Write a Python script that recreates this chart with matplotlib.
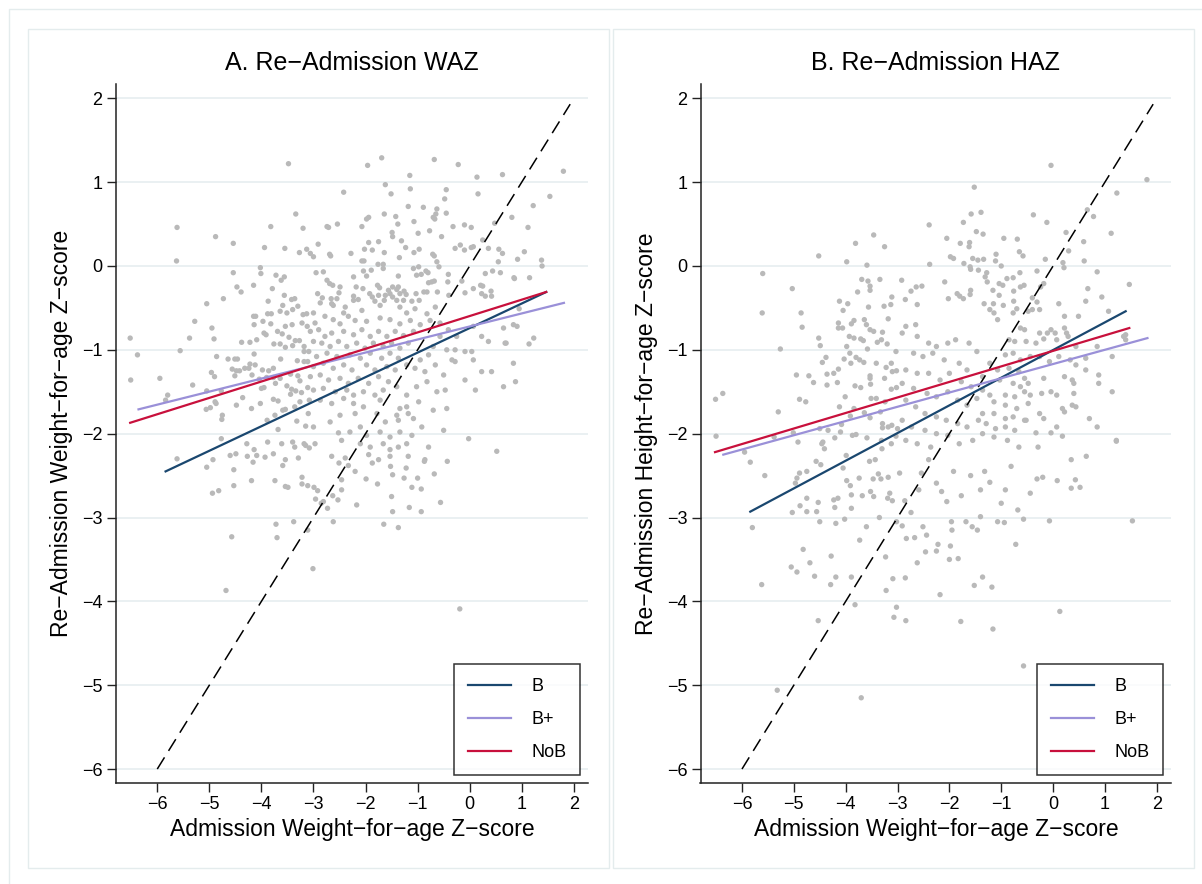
import numpy as np
import matplotlib
matplotlib.use("Agg")
import matplotlib.pyplot as plt
from matplotlib.lines import Line2D
from matplotlib.patches import Rectangle

plt.rcParams['font.family'] = ['Liberation Sans', 'DejaVu Sans']

# ---- data ----
titles = ["A. Re\u2212Admission WAZ", "B. Re\u2212Admission HAZ"]
ylabels = ["Re\u2212Admission Weight\u2212for\u2212age Z\u2212score",
           "Re\u2212Admission Height\u2212for\u2212age Z\u2212score"]
xlabel = "Admission Weight\u2212for\u2212age Z\u2212score"
ticks = [-6, -5, -4, -3, -2, -1, 0, 1, 2]

groups = ["B", "B+", "NoB"]
group_colors = ["#1a476f", "#9a90d8", "#c8103c"]

# fitted lines: (x start, x end), (y start, y end) per group
waz_fit_x = [(-5.84, 1.47), (-6.36, 1.81), (-6.52, 1.47)]
waz_fit_y = [(-2.45, -0.31), (-1.71, -0.44), (-1.87, -0.31)]
haz_fit_x = [(-5.84, 1.40), (-6.36, 1.82), (-6.52, 1.47)]
haz_fit_y = [(-2.93, -0.54), (-2.25, -0.86), (-2.22, -0.74)]

# line of equality
eq_x = [-6.0, 1.93]

# scatter points (admission z, re-admission z)
waz_points = [
    (-3.48, 1.22), (-3.34, 0.62), (-5.62, 0.46), (-3.82, 0.47), (-4.88, 0.35), (-4.54, 0.27),
    (-3.94, 0.22), (-3.55, 0.21), (-3.27, 0.16), (-5.63, 0.06), (-4.02, -0.02), (-4.54, -0.08),
    (-4.01, -0.09), (-3.72, -0.11), (-3.56, -0.13), (-3.62, -0.17), (-4.47, -0.25), (-4.15, -0.23),
    (-4.39, -0.31), (-3.79, -0.27), (-3.56, -0.35), (-3.42, -0.40), (-3.36, -0.39), (-4.73, -0.39),
    (-3.87, -0.42), (-5.05, -0.45),
    (-1.69, 1.29), (-1.96, 1.20), (-0.68, 1.27), (-0.22, 1.21), (-1.15, 1.08), (0.14, 1.06),
    (0.63, 1.09), (-1.62, 0.97), (-2.42, 0.88), (-1.51, 0.86), (-1.14, 0.92), (-0.45, 0.91),
    (0.16, 0.86), (-0.48, 0.80), (-1.18, 0.71), (-0.89, 0.70), (-0.63, 0.68), (-1.64, 0.62),
    (-1.42, 0.59), (-1.94, 0.58), (-1.98, 0.56), (-0.65, 0.62), (-0.70, 0.58), (-0.67, 0.56),
    (-0.45, 0.63), (-1.07, 0.53), (0.81, 0.58), (-1.38, 0.50), (-2.07, 0.47), (-0.32, 0.47),
    (-0.10, 0.49), (0.03, 0.46), (0.48, 0.51), (-3.20, 0.45), (-2.74, 0.47), (-2.71, 0.46),
    (-2.54, 0.50), (-1.49, 0.40), (-1.48, 0.35), (-0.99, 0.39), (-0.77, 0.42), (-0.54, 0.35),
    (-1.31, 0.30), (-1.94, 0.28), (-1.75, 0.29), (0.25, 0.31), (-2.91, 0.26), (-3.13, 0.20),
    (-3.06, 0.15), (-3.00, 0.11), (-2.69, 0.14), (-2.67, 0.12), (-2.28, 0.15), (-2.02, 0.20),
    (-1.87, 0.19), (-1.64, 0.16), (-1.23, 0.22), (-1.07, 0.16), (-0.97, 0.20), (-1.35, 0.10),
    (-0.71, 0.14), (-0.68, 0.12), (-0.28, 0.21), (-0.18, 0.25), (-0.10, 0.19), (0.03, 0.22),
    (0.07, 0.23), (0.36, 0.21), (0.56, 0.20), (0.63, 0.15), (-2.03, 0.06), (-2.07, 0.06),
    (-0.63, 0.05), (0.55, 0.05), (-1.76, 0.02), (-1.66, 0.02), (-1.66, -0.03), (-0.59, -0.01),
    (-1.89, -0.05), (-2.04, -0.06), (-1.08, -0.03), (-0.98, -0.01), (-0.84, -0.06), (-0.80, -0.08),
    (-1.02, -0.11), (-0.93, -0.10), (-2.95, -0.08), (-2.81, -0.07), (-1.98, -0.12), (-1.37, -0.12),
    (-0.41, -0.10), (0.30, -0.09), (0.44, -0.06), (0.59, -0.08), (0.85, -0.14), (-2.74, -0.17),
    (-2.69, -0.21), (-2.63, -0.23), (-2.49, -0.25), (-2.23, -0.13), (-2.18, -0.25), (-2.05, -0.27),
    (-1.77, -0.23), (-1.73, -0.26), (-1.48, -0.25), (-1.37, -0.25), (-1.40, -0.28), (-1.56, -0.29),
    (-1.26, -0.30), (-0.79, -0.20), (-0.73, -0.19), (-0.68, -0.18), (-0.42, -0.19), (-0.15, -0.18),
    (0.07, -0.27), (0.21, -0.23), (0.25, -0.24), (0.41, -0.30), (-2.92, -0.33), (-2.83, -0.38),
    (-2.66, -0.39), (-2.55, -0.39), (-2.51, -0.32), (-2.23, -0.36), (-1.92, -0.33), (-1.87, -0.37),
    (-1.75, -0.35), (-1.62, -0.35), (-1.53, -0.33), (-1.48, -0.37), (-1.34, -0.33), (-1.22, -0.34),
    (-1.03, -0.33), (-0.88, -0.31), (-0.82, -0.31), (-0.62, -0.31), (-0.40, -0.35), (-0.09, -0.32),
    (0.23, -0.33), (0.30, -0.36), (0.42, -0.36), (-2.23, -0.41), (-2.14, -0.40), (-1.82, -0.42),
    (-1.64, -0.41), (-1.40, -0.41), (-1.27, -0.41), (-1.11, -0.42), (-0.97, -0.41), (-2.87, -0.44),
    (-2.65, -0.45),
    (-3.59, -0.47), (-3.88, -0.57), (-3.81, -0.57), (-3.64, -0.54), (-3.51, -0.56), (-3.40, -0.52),
    (-3.30, -0.48), (-4.15, -0.60), (-4.11, -0.60), (-3.97, -0.66), (-3.82, -0.69), (-5.28, -0.66),
    (-4.14, -0.70), (-3.54, -0.72), (-3.41, -0.70), (-3.22, -0.68), (-4.95, -0.74), (-3.95, -0.80),
    (-3.91, -0.82), (-3.69, -0.78), (-3.60, -0.81), (-3.47, -0.85), (-3.35, -0.89), (-3.27, -0.89),
    (-6.52, -0.86), (-5.38, -0.86), (-4.91, -0.87), (-4.38, -0.91), (-4.22, -0.91), (-4.09, -0.88),
    (-3.76, -0.93), (-3.64, -0.93), (-3.54, -0.97), (-3.40, -0.95), (-6.38, -1.06), (-5.56, -1.01),
    (-4.14, -1.05), (-4.86, -1.08), (-4.64, -1.11), (-4.51, -1.11), (-4.46, -1.11), (-3.63, -1.11),
    (-3.31, -1.13), (-4.22, -1.17), (-4.12, -1.18), (-4.56, -1.23), (-4.48, -1.25), (-4.42, -1.25),
    (-4.32, -1.22), (-4.24, -1.22), (-3.98, -1.24), (-3.86, -1.25), (-3.77, -1.22), (-4.96, -1.27),
    (-4.90, -1.32), (-4.51, -1.31), (-4.18, -1.30), (-4.04, -1.35), (-3.90, -1.33), (-3.77, -1.33),
    (-3.64, -1.34), (-3.44, -1.29), (-3.30, -1.31), (-3.26, -1.37), (-6.51, -1.36), (-5.95, -1.34),
    (-5.32, -1.42), (-5.05, -1.49), (-4.77, -1.49), (-4.36, -1.57), (-4.00, -1.46), (-3.95, -1.45),
    (-3.73, -1.40), (-3.51, -1.43), (-3.42, -1.47), (-3.34, -1.49), (-5.80, -1.54), (-5.84, -1.60),
    (-4.89, -1.62), (-4.87, -1.64), (-4.19, -1.70), (-4.02, -1.64), (-3.77, -1.59), (-3.68, -1.61),
    (-3.44, -1.53), (-3.59, -1.72), (-3.54, -1.71), (-3.36, -1.68), (-3.26, -1.62), (-5.06, -1.71),
    (-4.98, -1.69), (-4.75, -1.78), (-4.76, -1.83), (-4.48, -1.66), (-3.89, -1.84), (-3.74, -1.78),
    (-3.68, -1.95), (-3.32, -1.85), (-4.77, -2.06), (-4.28, -2.12), (-4.14, -2.19), (-3.88, -2.10),
    (-3.61, -2.12), (-3.40, -2.10), (-3.36, -2.16), (-4.60, -2.26), (-4.49, -2.24), (-4.27, -2.27),
    (-4.09, -2.26), (-3.93, -2.28), (-3.77, -2.24), (-3.54, -2.31), (-3.29, -2.29), (-5.62, -2.30),
    (-4.93, -2.31), (-3.20, -0.58), (-3.13, -0.57), (-3.12, -0.72), (-3.18, -0.96), (-3.18, -1.02),
    (-3.09, -1.02), (-3.18, -1.14), (-3.11, -1.14), (-3.23, -1.51), (-3.11, -1.45), (-3.08, -1.60),
    (-3.15, -1.91), (-3.18, -2.12), (-3.15, -2.14), (-3.08, -2.17),
    (-3.00, -0.56), (-2.97, -0.68), (-2.78, -0.60), (-2.62, -0.47), (-2.39, -0.49), (-2.07, -0.53),
    (-1.72, -0.47), (-1.34, -0.49), (-1.21, -0.56), (-1.05, -0.51), (-0.82, -0.57), (-0.66, -0.49),
    (-2.42, -0.56), (-2.33, -0.60), (-2.62, -0.64), (-2.49, -0.69), (-2.20, -0.65), (-1.98, -0.66),
    (-1.72, -0.62), (-1.53, -0.64), (-1.34, -0.69), (-1.14, -0.65), (-0.95, -0.70), (-0.76, -0.65),
    (-0.57, -0.68), (-0.41, -0.76), (-0.25, -0.84), (0.07, -0.72), (0.23, -0.84), (0.36, -0.90),
    (0.68, -0.92), (0.84, -0.70), (-3.06, -0.78), (-2.90, -0.76), (-2.78, -0.84), (-2.65, -0.80),
    (-2.42, -0.78), (-2.23, -0.82), (-2.07, -0.76), (-1.91, -0.84), (-1.75, -0.78), (-1.59, -0.84),
    (-1.43, -0.78), (-1.27, -0.83), (-1.08, -0.78), (-3.00, -0.90), (-2.84, -0.92), (-2.68, -0.96),
    (-2.52, -0.90), (-2.36, -0.96), (-2.17, -0.92), (-2.01, -0.98), (-1.85, -0.92), (-1.66, -0.96),
    (-1.50, -0.92), (-1.34, -0.98), (-1.18, -0.92), (-0.70, -0.96), (-0.57, -0.84), (-0.44, -1.00),
    (-0.28, -1.00), (-0.09, -1.02), (0.04, -1.02), (-2.94, -1.08), (-2.74, -1.04), (-2.55, -1.08),
    (-2.30, -1.06), (-2.10, -1.10), (-1.91, -1.04), (-1.69, -1.10), (-1.53, -1.04), (-1.37, -1.10),
    (-0.95, -1.12), (-0.79, -1.06), (-0.34, -1.12), (-0.28, -1.14), (0.07, -1.12), (-3.00, -1.20),
    (-2.81, -1.16), (-2.62, -1.22), (-2.42, -1.18), (-2.26, -1.24), (-1.98, -1.18), (-1.82, -1.24),
    (-1.59, -1.20), (-1.43, -1.24), (-1.21, -1.18), (-1.05, -1.22), (-0.86, -1.26), (-0.66, -1.18),
    (-0.50, -1.30), (-3.06, -1.32), (-2.87, -1.30), (-2.71, -1.36), (-2.49, -1.34), (-2.33, -1.40),
    (-2.14, -1.34), (-1.94, -1.40), (-1.75, -1.32), (-1.56, -1.38), (-1.40, -1.44), (-1.02, -1.44),
    (-0.82, -1.38), (-0.09, -1.36), (0.23, -1.26), (0.42, -1.26), (-3.00, -1.48), (-2.81, -1.46),
    (-2.58, -1.50), (-2.36, -1.48), (-2.23, -1.54), (-2.04, -1.50), (-1.82, -1.54), (-1.66, -1.48),
    (-1.21, -1.54), (-0.63, -1.50), (-0.47, -1.48), (0.11, -1.48), (0.65, -1.44), (-2.87, -1.60),
    (-2.65, -1.64), (-2.42, -1.58), (-2.23, -1.64), (-2.04, -1.68), (-1.72, -1.60), (-1.34, -1.70),
    (-1.21, -1.68), (-0.98, -1.62), (-0.70, -1.72), (-0.44, -1.70), (-3.10, -1.76), (-2.68, -1.86),
    (-2.49, -1.78), (-2.20, -1.76), (-2.10, -1.92), (-1.78, -1.76), (-1.62, -1.86), (-1.40, -1.78),
    (-1.18, -1.76), (-1.08, -1.82), (-1.37, -1.84), (-0.92, -1.92), (-3.00, -1.92), (-2.52, -1.99),
    (-2.30, -1.98), (-1.98, -2.02), (-1.72, -1.98), (-1.53, -2.04), (-1.34, -1.98), (-1.11, -2.02),
    (-0.50, -1.96), (-0.02, -2.06), (-2.97, -2.12), (-2.46, -2.08), (-2.10, -2.12), (-1.91, -2.16),
    (-1.66, -2.12), (-1.53, -2.19), (-1.37, -2.16), (-1.21, -2.12), (-0.79, -2.16), (-2.65, -2.27),
    (-2.39, -2.29), (-1.94, -2.25), (-1.75, -2.31), (-1.53, -2.27), (-1.18, -2.27), (-0.86, -2.31),
    (0.52, -2.21),
    (-5.05, -2.40), (-4.53, -2.43), (-4.16, -2.34), (-3.59, -2.38), (-2.51, -2.35), (-2.33, -2.38),
    (-2.20, -2.45), (-1.87, -2.35), (-1.52, -2.39), (-1.22, -2.41), (-0.87, -2.33), (-0.43, -2.33),
    (-4.94, -2.71), (-4.82, -2.68), (-4.53, -2.62), (-4.19, -2.56), (-3.74, -2.56), (-3.54, -2.63),
    (-3.49, -2.64), (-3.22, -2.52), (-3.22, -2.60), (-3.11, -2.62), (-2.99, -2.64), (-2.92, -2.68),
    (-2.96, -2.78), (-2.85, -2.83), (-2.81, -2.81), (-2.73, -2.89), (-2.63, -2.74), (-2.53, -2.79),
    (-2.46, -2.67), (-2.46, -2.55), (-2.17, -2.85), (-1.99, -2.54), (-1.77, -2.60), (-1.48, -2.49),
    (-1.50, -2.75), (-1.48, -2.93), (-1.65, -3.08), (-1.37, -3.12), (-1.26, -2.53), (-1.11, -2.64),
    (-1.00, -2.53), (-0.93, -2.66), (-1.16, -2.88), (-0.93, -2.93), (-0.68, -2.48), (-0.56, -2.82),
    (-3.72, -3.08), (-3.70, -3.24), (-3.38, -3.05), (-3.11, -3.15), (-2.62, -3.05), (-4.57, -3.23),
    (-3.01, -3.61), (-4.68, -3.87), (-0.19, -4.09),
    (1.80, 1.13), (1.54, 0.83), (1.22, 0.72), (1.38, 0.07), (1.39, 0.00), (1.12, 0.46),
    (1.05, 0.17), (1.15, -0.14), (0.92, 0.08), (0.86, -0.15), (0.95, -0.51), (0.91, -0.72),
    (1.23, -0.86), (1.14, -0.93), (0.88, -1.38), (0.84, -1.16), (0.70, -0.92), (0.65, -0.74),
]

haz_points = [
    (-3.46, 0.37), (-3.81, 0.27), (-3.25, 0.23), (-4.52, 0.12), (-3.98, 0.05), (-3.59, 0.01),
    (-5.60, -0.09), (-3.69, -0.16), (-3.57, -0.18), (-3.34, -0.16), (-3.53, -0.24), (-3.53, -0.29),
    (-5.03, -0.27), (-3.77, -0.31), (-3.11, -0.37), (-4.12, -0.42), (-3.96, -0.45), (-3.13, -0.46),
    (-0.04, 1.20), (-1.52, 0.94), (-1.58, 0.62), (-1.39, 0.64), (-0.38, 0.61), (-0.12, 0.52),
    (0.66, 0.67), (0.78, 0.59), (-2.39, 0.49), (-1.73, 0.52), (-1.48, 0.41), (-1.35, 0.38),
    (0.25, 0.40), (0.59, 0.29), (-2.05, 0.33), (-1.79, 0.27), (-1.61, 0.28), (-1.62, 0.23),
    (-0.95, 0.33), (-0.69, 0.32), (0.30, 0.18), (-0.65, 0.17), (-0.58, 0.12), (-1.10, 0.14),
    (-1.98, 0.11), (-1.92, 0.09), (-1.55, 0.09), (-1.45, 0.07), (-1.34, 0.08), (-1.11, 0.06),
    (-0.15, 0.08), (0.19, 0.04), (0.60, 0.06), (-2.38, 0.02), (-1.72, 0.03), (-1.60, -0.01),
    (-1.59, -0.04), (-1.44, -0.05), (-1.00, 0.00), (0.21, -0.02), (-0.31, -0.06), (-1.28, -0.08),
    (-0.64, -0.08), (0.85, -0.07), (-2.92, -0.17), (-2.09, -0.19), (-1.31, -0.13), (-1.27, -0.19),
    (-0.89, -0.15), (-0.77, -0.14), (-1.04, -0.21), (-0.97, -0.23), (-0.56, -0.23), (-0.63, -0.25),
    (-2.74, -0.30), (-2.64, -0.25), (-2.53, -0.24), (-1.59, -0.29), (-1.16, -0.29), (-0.76, -0.30),
    (-0.18, -0.21), (-0.24, -0.25), (0.67, -0.27), (-2.85, -0.40), (-2.02, -0.39), (-1.85, -0.33),
    (-1.80, -0.36), (-1.73, -0.39), (-1.60, -0.34), (-1.04, -0.35), (-0.76, -0.42), (-0.40, -0.38),
    (-0.31, -0.43), (0.11, -0.45), (0.63, -0.42), (-2.62, -0.46), (-1.33, -0.45), (-1.15, -0.45),
    (-5.61, -0.56), (-4.86, -0.56), (-4.84, -0.73), (-4.05, -0.53), (-3.56, -0.49), (-3.26, -0.48),
    (-3.18, -0.63), (-3.89, -0.69), (-3.84, -0.65), (-4.14, -0.68), (-4.14, -0.74), (-4.06, -0.74),
    (-3.64, -0.64), (-3.60, -0.70), (-3.53, -0.76), (-3.46, -0.78), (-3.29, -0.79), (-3.93, -0.84),
    (-3.84, -0.86), (-3.71, -0.87), (-3.66, -0.89), (-4.52, -0.86), (-4.49, -0.95), (-3.98, -0.96),
    (-3.58, -0.99), (-3.39, -0.91), (-3.31, -0.88), (-3.20, -0.93), (-3.03, -1.02), (-5.26, -0.99),
    (-3.92, -1.04), (-3.80, -1.09), (-3.73, -1.12), (-3.65, -1.15), (-4.38, -1.09), (-4.45, -1.15),
    (-4.03, -1.11), (-3.90, -1.16), (-3.41, -1.16), (-3.12, -1.16), (-3.22, -1.21), (-3.10, -1.26),
    (-3.02, -1.25), (-4.95, -1.30), (-4.71, -1.31), (-4.36, -1.29), (-4.23, -1.28), (-4.14, -1.23),
    (-4.62, -1.39), (-4.36, -1.42), (-4.16, -1.39), (-3.53, -1.31), (-3.53, -1.34), (-3.52, -1.41),
    (-3.25, -1.34), (-3.82, -1.43), (-3.71, -1.45), (-3.12, -1.47), (-3.02, -1.45), (-6.51, -1.59),
    (-6.37, -1.52), (-4.89, -1.59), (-4.77, -1.62), (-4.01, -1.56), (-3.51, -1.58), (-3.41, -1.58),
    (-3.24, -1.62), (-5.30, -1.74), (-4.12, -1.68), (-3.84, -1.70), (-3.64, -1.75), (-3.53, -1.81),
    (-3.91, -1.79), (-3.33, -1.74), (-3.29, -1.88), (-3.29, -1.93), (-3.18, -1.92), (-3.11, -1.90),
    (-3.00, -1.94), (-4.08, -1.89), (-4.10, -1.98), (-4.50, -1.94), (-4.34, -1.96), (-5.01, -1.99),
    (-6.50, -2.03), (-5.38, -2.04), (-4.92, -2.10), (-4.44, -2.10), (-4.46, -2.12), (-4.41, -2.18),
    (-4.21, -2.05), (-3.87, -2.02), (-3.80, -2.01), (-3.59, -2.05), (-3.31, -2.08), (-3.12, -2.12),
    (-3.03, -2.03), (-3.30, -2.18),
    (1.23, 0.87), (1.81, 1.03), (1.12, 0.39), (0.94, -0.37), (1.47, -0.22),
    (-1.22, -0.52), (-1.14, -0.56), (-1.07, -0.64), (-0.96, -0.47), (-0.77, -0.56), (-0.70, -0.51),
    (-0.48, -0.54), (-0.40, -0.52), (-0.26, -0.52), (0.22, -0.60), (0.49, -0.60), (1.07, -0.54),
    (-0.63, -0.74), (-0.55, -0.76), (-0.26, -0.80), (-0.11, -0.80), (0.04, -0.80), (-0.04, -0.76),
    (0.22, -0.74), (0.26, -0.80), (-0.18, -0.87), (0.07, -0.88), (0.29, -0.84), (-0.85, -0.88),
    (-0.74, -0.90), (-0.52, -0.90), (-0.33, -0.92), (0.44, -0.96), (0.85, -0.96), (1.40, -0.82),
    (1.40, -0.88), (1.14, -1.08), (1.36, -0.84), (-0.92, -1.06), (-0.77, -1.04), (-0.63, -1.12),
    (-0.44, -1.08), (-0.26, -1.08), (-0.07, -1.14), (0.11, -1.08), (0.33, -1.12), (0.44, -1.18),
    (0.63, -1.10), (-1.22, -1.16), (-1.07, -1.24), (-0.85, -1.22), (-0.66, -1.26), (-0.55, -1.34),
    (-0.48, -1.40), (-0.18, -1.34), (0.22, -1.32), (0.37, -1.36), (0.40, -1.40), (0.63, -1.24),
    (0.88, -1.30), (0.88, -1.40), (1.14, -1.50), (0.70, -1.82), (0.85, -1.92), (1.22, -2.08),
    (-1.36, -1.32), (-1.03, -1.36), (-0.77, -1.40), (-0.63, -1.44), (-1.36, -1.48), (-1.22, -1.54),
    (-0.92, -1.54), (-0.74, -1.56), (-0.55, -1.50), (-0.44, -1.54), (-0.22, -1.52), (-0.04, -1.50),
    (0.07, -1.54), (0.40, -1.52), (-1.14, -1.62), (-0.92, -1.66), (-0.70, -1.70), (-0.48, -1.64),
    (-0.26, -1.76), (0.18, -1.70), (0.22, -1.74), (0.37, -1.66), (0.44, -1.68), (-1.36, -1.76),
    (-1.14, -1.76), (-0.92, -1.82), (-0.77, -1.80), (-0.55, -1.84), (-0.18, -1.82), (0.07, -1.92),
    (-1.29, -1.88), (-1.11, -1.94), (-0.92, -1.92), (-0.74, -1.96), (-0.52, -1.84), (-0.33, -1.99),
    (-0.04, -1.99), (0.18, -2.03), (-1.36, -2.00), (-1.14, -2.04), (-0.88, -2.08), (-0.66, -2.16),
    (-0.29, -2.16),
    (-2.84, -0.72), (-2.65, -0.70), (-2.91, -0.80), (-2.62, -0.84), (-2.40, -0.92), (-2.25, -0.96),
    (-2.03, -0.92), (-1.88, -0.88), (-1.62, -0.92), (-1.47, -1.02), (-2.69, -1.04), (-2.51, -1.08),
    (-2.32, -1.04), (-2.10, -1.12), (-1.81, -1.16), (-1.66, -1.24), (-2.84, -1.24), (-2.62, -1.28),
    (-2.40, -1.28), (-2.18, -1.36), (-2.00, -1.28), (-1.77, -1.38), (-1.58, -1.44), (-2.91, -1.40),
    (-2.69, -1.46), (-2.43, -1.52), (-2.25, -1.56), (-2.03, -1.50), (-1.84, -1.60), (-1.66, -1.66),
    (-1.47, -1.58), (-2.84, -1.60), (-2.65, -1.68), (-2.47, -1.76), (-2.25, -1.80), (-2.06, -1.84),
    (-1.84, -1.88), (-1.66, -1.92), (-1.44, -1.84), (-2.91, -1.84), (-2.73, -1.92), (-2.47, -1.96),
    (-2.25, -2.00), (-2.03, -2.02), (-1.81, -2.12), (-1.55, -2.08), (-2.84, -2.08), (-2.62, -2.12),
    (-2.36, -2.16),
    (-5.95, -2.22), (-5.84, -2.34), (-5.56, -2.50), (-5.80, -3.12), (-5.62, -3.80), (-5.32, -5.06),
    (-5.05, -3.59), (-4.94, -3.65), (-5.03, -2.94), (-4.88, -2.86), (-4.97, -2.59), (-4.94, -2.53),
    (-4.89, -2.47), (-4.75, -2.45), (-4.75, -2.77), (-4.75, -2.93), (-4.82, -3.38), (-4.69, -3.54),
    (-4.60, -3.70), (-4.53, -2.82), (-4.56, -2.93), (-4.50, -3.05), (-4.53, -4.23), (-4.57, -2.33),
    (-4.48, -2.37), (-4.28, -3.46), (-4.29, -3.80), (-4.23, -2.79), (-4.21, -2.88), (-4.15, -2.77),
    (-4.19, -3.07), (-4.19, -3.71), (-4.02, -3.02), (-4.05, -2.41), (-3.98, -2.56), (-3.99, -2.26),
    (-3.91, -2.62), (-3.89, -2.73), (-3.89, -2.89), (-3.89, -3.71), (-3.82, -4.04), (-3.73, -3.27),
    (-3.74, -2.53), (-3.70, -5.15), (-3.68, -2.74), (-3.60, -3.11), (-3.54, -2.33), (-3.52, -2.69),
    (-3.46, -2.75), (-3.47, -2.54), (-3.43, -2.31), (-3.37, -2.48), (-3.35, -3.00), (-3.32, -2.54),
    (-3.23, -3.47), (-3.22, -3.87), (-3.19, -2.77), (-3.18, -2.52), (-3.15, -2.71), (-3.10, -2.80),
    (-3.09, -3.73), (-3.07, -4.19), (-3.02, -4.07), (-3.02, -3.05), (-2.96, -2.47), (-2.91, -3.10),
    (-2.86, -2.80), (-2.85, -3.72), (-2.84, -4.23), (-2.83, -3.25), (-2.74, -2.94), (-2.67, -3.24),
    (-2.62, -3.54), (-2.59, -2.67), (-2.54, -2.47), (-2.51, -3.11), (-2.46, -3.41), (-2.44, -3.21),
    (-2.40, -2.31), (-2.25, -2.59), (-2.25, -3.40), (-2.22, -3.32), (-2.18, -3.92), (-2.15, -2.69),
    (-2.05, -2.81), (-2.00, -3.50), (-1.98, -3.34), (-1.96, -3.05), (-1.95, -3.15), (-1.92, -2.45),
    (-1.83, -3.49), (-1.78, -4.24), (-1.77, -2.74), (-1.68, -3.05), (-1.59, -2.50), (-1.56, -3.11),
    (-1.52, -3.81), (-1.46, -3.15), (-1.40, -2.99), (-1.40, -2.67), (-1.36, -3.71), (-1.32, -2.45),
    (-1.22, -2.58), (-1.18, -3.83), (-1.16, -4.33), (-1.07, -3.05), (-1.00, -2.83), (-0.94, -3.06),
    (-0.92, -2.67), (-0.81, -2.39), (-0.72, -3.32), (-0.68, -2.91), (-0.57, -3.02), (-0.57, -4.77),
    (-0.44, -2.71), (-0.31, -2.54), (-0.20, -2.52), (-0.07, -3.04), (0.08, -2.56), (0.13, -4.12),
    (0.35, -2.65), (0.35, -2.31), (0.43, -2.55), (0.52, -2.64), (0.64, -2.27), (1.53, -3.04),
    (1.22, -2.09),
]

panels = [
    (waz_points, waz_fit_x, waz_fit_y),
    (haz_points, haz_fit_x, haz_fit_y),
]

# ---- figure ----
W, H = 1202, 884
fig = plt.figure(figsize=(W / 100, H / 100), dpi=100, facecolor='white')


def px_box(x0, y0, x1, y1, color):
    # rectangle given in pixel corners, top-left origin
    fig.add_artist(Rectangle((x0 / W, 1 - y1 / H), (x1 - x0) / W, (y1 - y0) / H,
                             transform=fig.transFigure, fill=False,
                             ec=color, lw=1.0, zorder=0))


px_box(8.5, 9, 1230, 900, '#e4eced')
px_box(27.5, 29, 608.5, 867.5, '#e4eced')
px_box(612.5, 29, 1194, 867.5, '#e4eced')

axes_rects = [
    [115.6 / W, 1 - 783.3 / H, 472.8 / W, 699.0 / H],
    [700.5 / W, 1 - 783.3 / H, 470.8 / W, 699.0 / H],
]

for i, (pts, fx, fy) in enumerate(panels):
    ax = fig.add_axes(axes_rects[i])
    pts = np.array(pts)
    ax.scatter(pts[:, 0], pts[:, 1], s=15, color='#b9b9b9', edgecolors='none', zorder=2)
    ax.plot(eq_x, eq_x, color='black', lw=1.1, linestyle=(0, (9, 5)), zorder=3)
    for g in range(len(groups)):
        ax.plot(fx[g], fy[g], color=group_colors[g], lw=1.6, zorder=4)

    ax.set_xlim(-6.8, 2.28)
    ax.set_ylim(-6.17, 2.167)
    ax.set_xticks(ticks)
    ax.set_yticks(ticks)
    for t in ticks:
        ax.axhline(t, color='#e8eff1', lw=1.3, zorder=1)

    for side in ['top', 'right']:
        ax.spines[side].set_visible(False)
    for side in ['left', 'bottom']:
        ax.spines[side].set_linewidth(1.1)
        ax.spines[side].set_color('#222222')
    ax.tick_params(direction='out', length=6.5, width=1.0, pad=3, labelsize=13, color='#222222')

    ax.set_title(titles[i], fontsize=18, pad=10)
    ax.set_xlabel(xlabel, fontsize=16.5, labelpad=3)
    ax.set_ylabel(ylabels[i], fontsize=16.5, labelpad=6)

    handles = [Line2D([0], [0], color=c, lw=1.6) for c in group_colors]
    leg = ax.legend(handles, groups, loc='lower right', bbox_to_anchor=(0.982, 0.012),
                    fontsize=13, frameon=True, fancybox=False, borderaxespad=0,
                    handlelength=2.4, handletextpad=1.1, labelspacing=0.9, borderpad=0.75)
    leg.get_frame().set_edgecolor('black')
    leg.get_frame().set_linewidth(1.1)

fig.savefig('out.png', dpi=100, facecolor='white')
